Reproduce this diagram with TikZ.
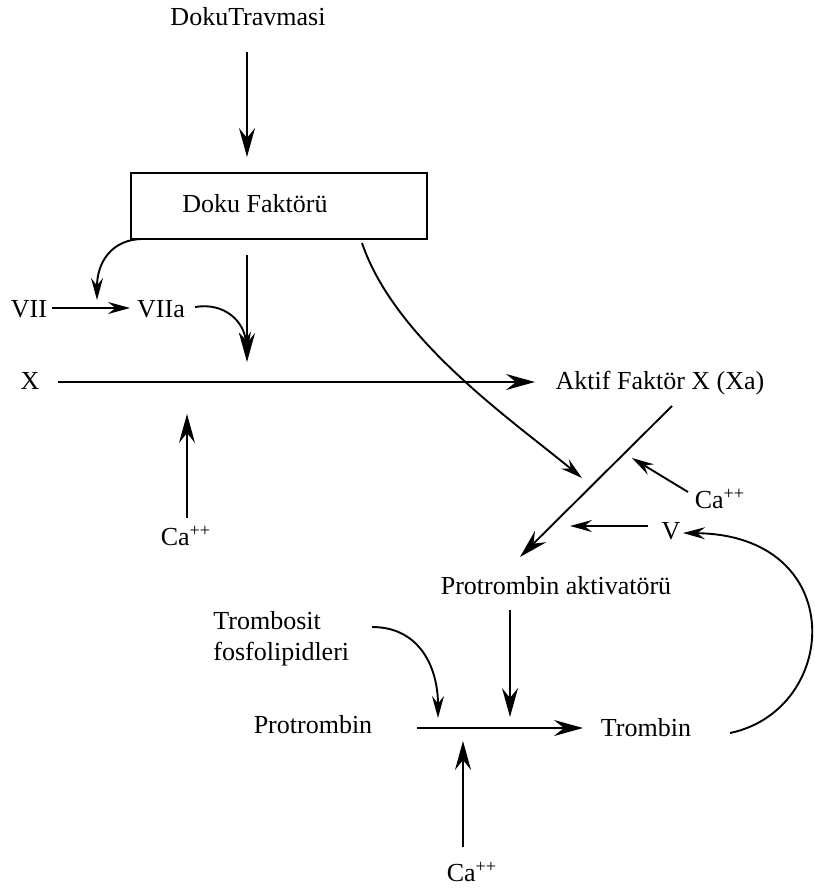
\documentclass[tikz,border=0pt]{standalone}
\usepackage{fontspec}
\setmainfont{Liberation Serif}
\usetikzlibrary{arrows.meta}
\begin{document}
\begin{tikzpicture}[x=0.5pt,y=-0.5pt,
  every node/.style={font=\fontsize{13pt}{15.5pt}\selectfont, inner sep=0pt},
  txt/.style={anchor=base},
  line/.style={line width=0.95pt},
  big/.style={line, -{Stealth[length=14.5pt,width=8pt,inset=5pt]}},
  small/.style={line, -{Stealth[length=11pt,width=6pt,inset=3.8pt]}},
  boxst/.style={draw, line width=0.95pt, minimum width=148pt, minimum height=33pt},
]
\useasboundingbox (0,0) rectangle (814,888);

% nodes
\node[txt] (trav) at (248,26) {DokuTravmasi};
\node[boxst] (dokuf) at (279,206) {\raisebox{3pt}{Doku Faktörü}\rule{24pt}{0pt}};
\node[txt] (vii) at (29,317) {VII};
\node[txt] (viia) at (161,317) {VIIa};
\node[txt] (x) at (30,389) {X};
\node[txt] (xa) at (660,389) {Aktif Faktör X (Xa)};
\node[txt] (caR) at (720,508) {Ca\textsuperscript{++}};
\node[txt] (v) at (671,539) {V};
\node[txt] (pa) at (556,594) {Protrombin aktivatörü};
\node[anchor=north west, align=left] (tf) at (213,611) {Trombosit\\fosfolipidleri};
\node[txt] (pro) at (313,733) {Protrombin};
\node[txt] (trom) at (646,736) {Trombin};
\node[txt] (caL) at (186,545) {Ca\textsuperscript{++}};
\node[txt] (caB) at (472,881) {Ca\textsuperscript{++}};

% junction coordinates
\coordinate (a1) at (247,52);
\coordinate (a2) at (247,157);
\coordinate (b0) at (143,239);
\coordinate (b1) at (97,300);
\coordinate (c0) at (52,308);
\coordinate (c1) at (130,308);
\coordinate (d0) at (247,255);
\coordinate (d1) at (247,362);
\coordinate (e0) at (195,307);
\coordinate (e1) at (247,354);
\coordinate (f0) at (58,382);
\coordinate (f1) at (535,382);
\coordinate (g0) at (362,243);
\coordinate (g1) at (582,478);
\coordinate (h0) at (672,406);
\coordinate (h1) at (520,557);
\coordinate (i0) at (688,492);
\coordinate (i1) at (632,458);
\coordinate (j0) at (648,526);
\coordinate (j1) at (570,526);
\coordinate (k0) at (730,733);
\coordinate (k1) at (683,533);
\coordinate (l0) at (187,518);
\coordinate (l1) at (187,414);
\coordinate (m0) at (510,610);
\coordinate (m1) at (510,717);
\coordinate (n0) at (372,627);
\coordinate (n1) at (438,718);
\coordinate (o0) at (417,728);
\coordinate (o1) at (583,728);
\coordinate (p0) at (463,847);
\coordinate (p1) at (463,741);

% connectors
\draw[big] (a1) -- (a2);
\draw[small] (b0) .. controls (112,239) and (97,262) .. (b1);
\draw[small] (c0) -- (c1);
\draw[big] (d0) -- (d1);
\draw[small] (e0) .. controls (225,302) and (244,322) .. (e1);
\draw[big] (f0) -- (f1);
\draw[small] (g0) .. controls (395,340) and (512,420) .. (g1);
\draw[big] (h0) -- (h1);
\draw[small] (i0) -- (i1);
\draw[small] (j0) -- (j1);
\draw[small] (k0) .. controls (840,710) and (850,535) .. (k1);
\draw[big] (l0) -- (l1);
\draw[big] (m0) -- (m1);
\draw[small] (n0) .. controls (420,627) and (438,668) .. (n1);
\draw[big] (o0) -- (o1);
\draw[big] (p0) -- (p1);
\end{tikzpicture}
\end{document}
